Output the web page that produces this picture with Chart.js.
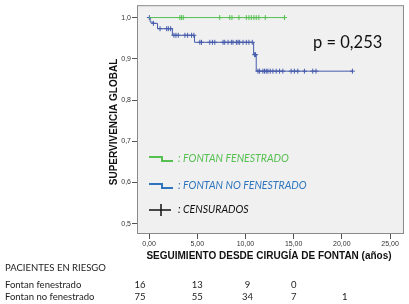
<!DOCTYPE html>
<html>
<head>
<meta charset="utf-8">
<script src="https://cdn.jsdelivr.net/npm/chart.js@4.4.1/dist/chart.umd.min.js"></script>
<style>
  html, body { margin: 0; padding: 0; background: #fff; }
  #wrap { width: 409px; height: 304px; }
</style>
</head>
<body>
<div id="wrap"><canvas id="km" width="409" height="304"></canvas></div>
<script>
// Kaplan-Meier steps: [time in years, survival after that time]
const fenestradoSteps = [[0, 1.0], [14.05, 1.0]];
const noFenestradoSteps = [
    [0, 1.0], [0.12, 0.989], [0.4, 0.986], [0.88, 0.973], [2.42, 0.957],
    [4.72, 0.940], [10.85, 0.910], [11.12, 0.870], [21.1, 0.870]
];

// censored times (the + marks)
const fenestradoCensored = [3.2, 3.37, 3.55, 7.33, 8.37, 8.6, 9.33, 10.09, 10.36,
    10.61, 10.88, 11.12, 11.39, 12.06, 14.05];
const noFenestradoCensored = [0.03, 0.45, 1.14, 1.83, 2.0, 2.24, 2.58, 2.79, 3.03,
    3.72, 4.0, 4.41, 4.65, 5.27, 5.44, 6.3, 6.58, 6.82, 7.68, 7.85, 8.2, 8.54,
    8.71, 9.06, 9.23, 9.4, 9.75, 10.09, 10.36, 10.71, 10.95, 11.05, 11.3, 11.47,
    11.81, 11.98, 12.16, 12.33, 12.57, 12.85, 13.19, 13.54, 13.88, 14.74, 15.08,
    15.43, 16.12, 16.98, 17.32, 21.1];

// axis ticks
const xTicks = [0, 5, 10, 15, 20, 25];
const yTicks = [0.5, 0.6, 0.7, 0.8, 0.9, 1.0];

// patients at risk
const riskTimes = [0, 5, 10, 15, 20];
const riskFenestrado = [16, 13, 9, 0];
const riskNoFenestrado = [75, 55, 34, 7, 1];

const greenLine = "rgb(85,192,80)";
const blueLine = "rgb(70,92,172)";
const blueText = "rgb(46,117,190)";

// value of a step curve at time t (used to sit the + marks on the curve)
function survivalAt(steps, t) {
    let v = steps[0][1];
    for (const s of steps) {
        if (s[0] <= t) v = s[1];
    }
    return v;
}

const toPoints = steps => steps.map(s => ({ x: s[0], y: s[1] }));
const censorPoints = (times, steps) => times.map(t => ({ x: t, y: survivalAt(steps, t) }));

const boxPlugin = {
    id: "box",
    beforeDraw(chart) {
        const c = chart.ctx, a = chart.chartArea;
        c.save();
        c.fillStyle = "#fff";
        c.fillRect(0, 0, chart.width, chart.height);
        c.fillStyle = "#f0f0f0";
        c.fillRect(a.left, a.top, a.right - a.left, a.bottom - a.top);
        c.restore();
    },
    afterDraw(chart) {
        const c = chart.ctx, a = chart.chartArea;
        const xs = chart.scales.x;
        c.save();
        // plot frame
        c.strokeStyle = "#8a8a8a";
        c.lineWidth = 1;
        c.strokeRect(a.left + 0.5, a.top + 0.5, a.right - a.left - 1, a.bottom - a.top - 1);

        // legend inside the plot
        const lx = 149, tx = 178;
        c.lineWidth = 2;
        c.strokeStyle = greenLine;
        c.beginPath(); c.moveTo(lx, 157); c.lineTo(162, 157); c.lineTo(162, 161); c.lineTo(173, 161); c.stroke();
        c.strokeStyle = "rgb(46,117,190)";
        c.beginPath(); c.moveTo(lx, 184); c.lineTo(162, 184); c.lineTo(162, 188); c.lineTo(173, 188); c.stroke();
        c.strokeStyle = "#111";
        c.lineWidth = 1.5;
        c.beginPath(); c.moveTo(lx, 210); c.lineTo(171, 210); c.moveTo(161, 204); c.lineTo(161, 216); c.stroke();

        c.font = "italic 10.5px Lato";
        c.textBaseline = "middle";
        c.textAlign = "left";
        c.fillStyle = greenLine;
        c.fillText(": FONTAN FENESTRADO", tx, 159);
        c.fillStyle = blueText;
        c.fillText(": FONTAN NO FENESTRADO", tx, 186);
        c.fillStyle = "#111";
        c.fillText(": CENSURADOS", tx, 210);

        // p value
        c.font = "16.5px Lato";
        c.fillStyle = "#111";
        c.fillText("p = 0,253", 313, 43);

        // axis titles
        c.font = "bold 10px 'Liberation Sans'";
        c.textAlign = "center";
        c.fillText("SEGUIMIENTO DESDE CIRUGÍA DE FONTAN (años)", 269, 256);
        c.save();
        c.translate(114, 122);
        c.rotate(-Math.PI / 2);
        c.fillText("SUPERVIVENCIA GLOBAL", 0, 0);
        c.restore();

        // patients at risk table
        c.font = "9.5px Lato";
        c.textAlign = "left";
        c.fillStyle = "#222";
        c.fillText("PACIENTES EN RIESGO", 5, 268);
        c.fillText("Fontan fenestrado", 5, 285);
        c.fillText("Fontan no fenestrado", 5, 297);
        c.textAlign = "center";
        const colShift = [-9, 0, 2, 0, 3];
        riskTimes.forEach((t, i) => {
            const px = xs.getPixelForValue(t) + colShift[i];
            if (i < riskFenestrado.length) c.fillText(String(riskFenestrado[i]), px, 285);
            if (i < riskNoFenestrado.length) c.fillText(String(riskNoFenestrado[i]), px, 297);
        });
        c.restore();
    }
};

const tickFont = { family: "'Liberation Sans'", size: 7 };

new Chart(document.getElementById("km").getContext("2d"), {
    type: "line",
    data: {
        datasets: [
            {
                data: toPoints(fenestradoSteps),
                borderColor: greenLine, borderWidth: 1,
                stepped: "before", pointRadius: 0, fill: false
            },
            {
                data: toPoints(noFenestradoSteps),
                borderColor: blueLine, borderWidth: 1,
                stepped: "before", pointRadius: 0, fill: false
            },
            {
                data: censorPoints(fenestradoCensored, fenestradoSteps),
                showLine: false, pointStyle: "cross", pointRadius: 2.5,
                borderColor: greenLine, borderWidth: 1
            },
            {
                data: censorPoints(noFenestradoCensored, noFenestradoSteps),
                showLine: false, pointStyle: "cross", pointRadius: 2.5,
                borderColor: blueLine, borderWidth: 1
            }
        ]
    },
    options: {
        responsive: false,
        animation: false,
        events: [],
        layout: { padding: { top: 3, right: 4, left: 0, bottom: 0 } },
        plugins: { legend: { display: false }, tooltip: { enabled: false } },
        scales: {
            x: {
                type: "linear",
                min: -1.25, max: 26.45,
                afterFit: s => { s.height = 70; },
                afterBuildTicks: s => { s.ticks = xTicks.map(v => ({ value: v })); },
                border: { display: false },
                grid: { drawOnChartArea: false, tickLength: 5, color: "#555" },
                ticks: {
                    color: "#333", font: tickFont, padding: 1, maxRotation: 0,
                    callback: v => v.toFixed(2).replace(".", ",")
                }
            },
            y: {
                min: 0.475, max: 1.03,
                afterFit: s => { s.width = 137; },
                afterBuildTicks: s => { s.ticks = yTicks.map(v => ({ value: v })); },
                border: { display: false },
                grid: { drawOnChartArea: false, tickLength: 5, color: "#555" },
                ticks: {
                    color: "#333", font: tickFont, padding: 1,
                    callback: v => v.toFixed(1).replace(".", ",")
                }
            }
        }
    },
    plugins: [boxPlugin]
});
</script>
</body>
</html>
